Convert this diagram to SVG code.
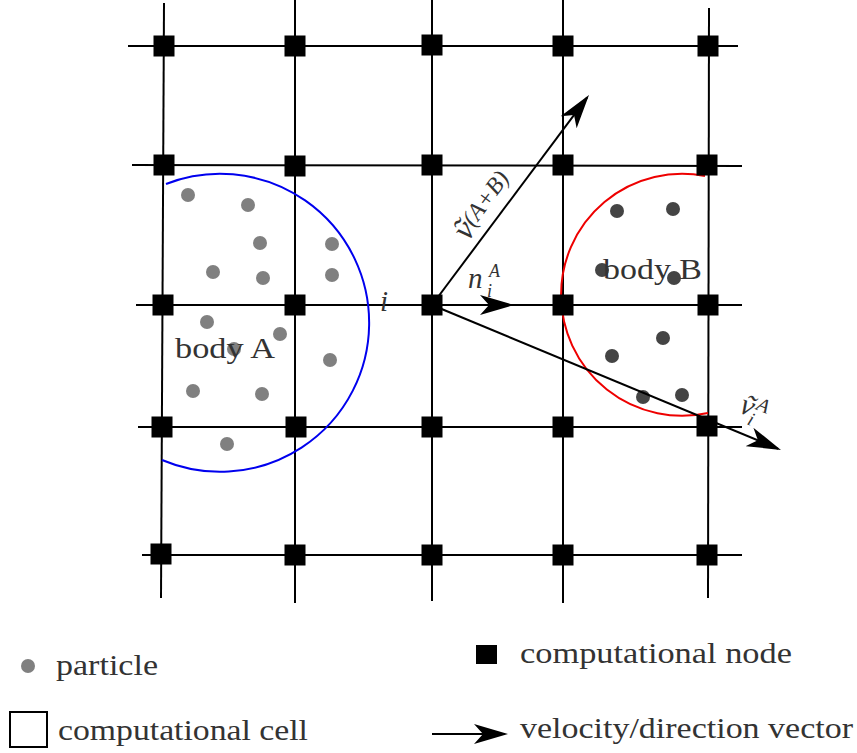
<svg xmlns="http://www.w3.org/2000/svg" width="857" height="753" viewBox="0 0 857 753">
<style>
.grid line{stroke:#000;stroke-width:2}
.node{fill:#000}
.pa{fill:#808080}
.pb{fill:#444}
.lbl{font-family:"Liberation Serif",serif;fill:#333}
.math{font-family:"Liberation Serif",serif;font-style:italic;fill:#333}
.vec{stroke:#000;stroke-width:2;fill:none}
</style>
<defs>
<marker id="stealth" viewBox="-34 -11 38 22" refX="-3" refY="0" markerWidth="38" markerHeight="22" markerUnits="userSpaceOnUse" orient="auto">
<path d="M0,0 L-34,-10 L-25,0 L-34,10 Z" fill="#000"/>
</marker>
</defs>
<rect width="857" height="753" fill="#fff"/>

<g id="grid" class="grid">
<line x1="164" y1="3" x2="161" y2="598"/>
<line x1="295" y1="0" x2="295" y2="603"/>
<line x1="432" y1="0" x2="432" y2="601"/>
<line x1="563" y1="0" x2="563" y2="603"/>
<line x1="709" y1="8" x2="708" y2="598"/>
<line x1="128" y1="46" x2="738" y2="46"/>
<line x1="132" y1="165" x2="742" y2="166"/>
<line x1="136" y1="305" x2="742" y2="305"/>
<line x1="138" y1="427" x2="742" y2="427"/>
<line x1="142" y1="555" x2="742" y2="555"/>
</g>

<g id="bodyA">
<path d="M166,184 A149,149 0 1 1 162,460" fill="none" stroke="#0000ee" stroke-width="2"/>
<circle class="pa" cx="188" cy="195" r="7"/>
<circle class="pa" cx="248" cy="205" r="7"/>
<circle class="pa" cx="260" cy="243" r="7"/>
<circle class="pa" cx="332" cy="244" r="7"/>
<circle class="pa" cx="213" cy="272" r="7"/>
<circle class="pa" cx="263" cy="278" r="7"/>
<circle class="pa" cx="332" cy="275" r="7"/>
<circle class="pa" cx="207" cy="322" r="7"/>
<circle class="pa" cx="280" cy="334" r="7"/>
<circle class="pa" cx="234" cy="349" r="7"/>
<circle class="pa" cx="330" cy="360" r="7"/>
<circle class="pa" cx="193" cy="391" r="7"/>
<circle class="pa" cx="262" cy="394" r="7"/>
<circle class="pa" cx="227" cy="444" r="7"/>
<text class="lbl" x="175" y="358" font-size="30" textLength="100" lengthAdjust="spacingAndGlyphs">body A</text>
</g>

<g id="bodyB">
<path d="M705,176 A121,121 0 1 0 708,413" fill="none" stroke="#ee0000" stroke-width="2"/>
<circle class="pb" cx="617" cy="211" r="7"/>
<circle class="pb" cx="673" cy="209" r="7"/>
<circle class="pb" cx="602" cy="270" r="7"/>
<circle class="pb" cx="674" cy="278" r="7"/>
<circle class="pb" cx="663" cy="338" r="7"/>
<circle class="pb" cx="612" cy="356" r="7"/>
<circle class="pb" cx="643" cy="397" r="7"/>
<circle class="pb" cx="682" cy="395" r="7"/>
<text class="lbl" x="603" y="279" font-size="30" textLength="99" lengthAdjust="spacingAndGlyphs">body B</text>
</g>

<g id="nodes">
<rect class="node" x="153.5" y="35.5" width="21" height="21"/>
<rect class="node" x="284.5" y="35.5" width="21" height="21"/>
<rect class="node" x="421.5" y="34.5" width="21" height="21"/>
<rect class="node" x="552.5" y="35.5" width="21" height="21"/>
<rect class="node" x="697.5" y="35.5" width="21" height="21"/>
<rect class="node" x="153.5" y="154.5" width="21" height="21"/>
<rect class="node" x="284.5" y="155.5" width="21" height="21"/>
<rect class="node" x="421.5" y="154.5" width="21" height="21"/>
<rect class="node" x="552.5" y="154.5" width="21" height="21"/>
<rect class="node" x="696.5" y="154.5" width="21" height="21"/>
<rect class="node" x="152.5" y="294.5" width="21" height="21"/>
<rect class="node" x="284.5" y="294.5" width="21" height="21"/>
<rect class="node" x="421.5" y="294.5" width="21" height="21"/>
<rect class="node" x="552.5" y="294.5" width="21" height="21"/>
<rect class="node" x="697.5" y="294.5" width="21" height="21"/>
<rect class="node" x="151.5" y="416.5" width="21" height="21"/>
<rect class="node" x="285.5" y="416.5" width="21" height="21"/>
<rect class="node" x="421.5" y="416.5" width="21" height="21"/>
<rect class="node" x="552.5" y="416.5" width="21" height="21"/>
<rect class="node" x="696.5" y="415.5" width="21" height="21"/>
<rect class="node" x="150.5" y="543.5" width="21" height="21"/>
<rect class="node" x="284.5" y="544.5" width="21" height="21"/>
<rect class="node" x="421.5" y="544.5" width="21" height="21"/>
<rect class="node" x="552.5" y="544.5" width="21" height="21"/>
<rect class="node" x="696.5" y="544.5" width="21" height="21"/>
</g>

<g id="vectors">
<line class="vec" x1="432" y1="305" x2="587.2" y2="97.4" marker-end="url(#stealth)"/>
<line class="vec" x1="432" y1="305" x2="511" y2="305" marker-end="url(#stealth)"/>
<line class="vec" x1="432" y1="305" x2="778.2" y2="448.8" marker-end="url(#stealth)"/>
</g>

<g id="labels">
<text class="math" x="380" y="311" font-size="29">i</text>
<text class="math" x="468" y="288" font-size="29">n</text>
<text class="math" x="489" y="277" font-size="18">A</text>
<text class="math" x="487" y="297" font-size="18">i</text>
<g transform="translate(468,242) rotate(-53.5)">
<text class="math" x="0" y="0" font-size="33">ṽ<tspan font-size="24" dy="-4">(A+B)</tspan></text>
</g>
<g transform="translate(738,412) rotate(22)">
<text class="math" x="0" y="0" font-size="30">ṽ</text>
<text class="math" x="15" y="-9" font-size="20">A</text>
<text class="math" x="12" y="8" font-size="19">i</text>
</g>
</g>

<g id="legend">
<circle class="pa" cx="28" cy="666" r="7"/>
<text class="lbl" x="56" y="675" font-size="29" textLength="102" lengthAdjust="spacingAndGlyphs">particle</text>
<rect x="476" y="645" width="21" height="19" fill="#000"/>
<text class="lbl" x="520" y="663" font-size="29" textLength="272" lengthAdjust="spacingAndGlyphs">computational node</text>
<rect x="10" y="712" width="37" height="35" fill="none" stroke="#000" stroke-width="2"/>
<text class="lbl" x="58" y="740" font-size="29" textLength="250" lengthAdjust="spacingAndGlyphs">computational cell</text>
<line class="vec" x1="432" y1="734" x2="505" y2="734" marker-end="url(#stealth)"/>
<text class="lbl" x="520" y="738" font-size="29" textLength="333" lengthAdjust="spacingAndGlyphs">velocity/direction vector</text>
</g>
</svg>
